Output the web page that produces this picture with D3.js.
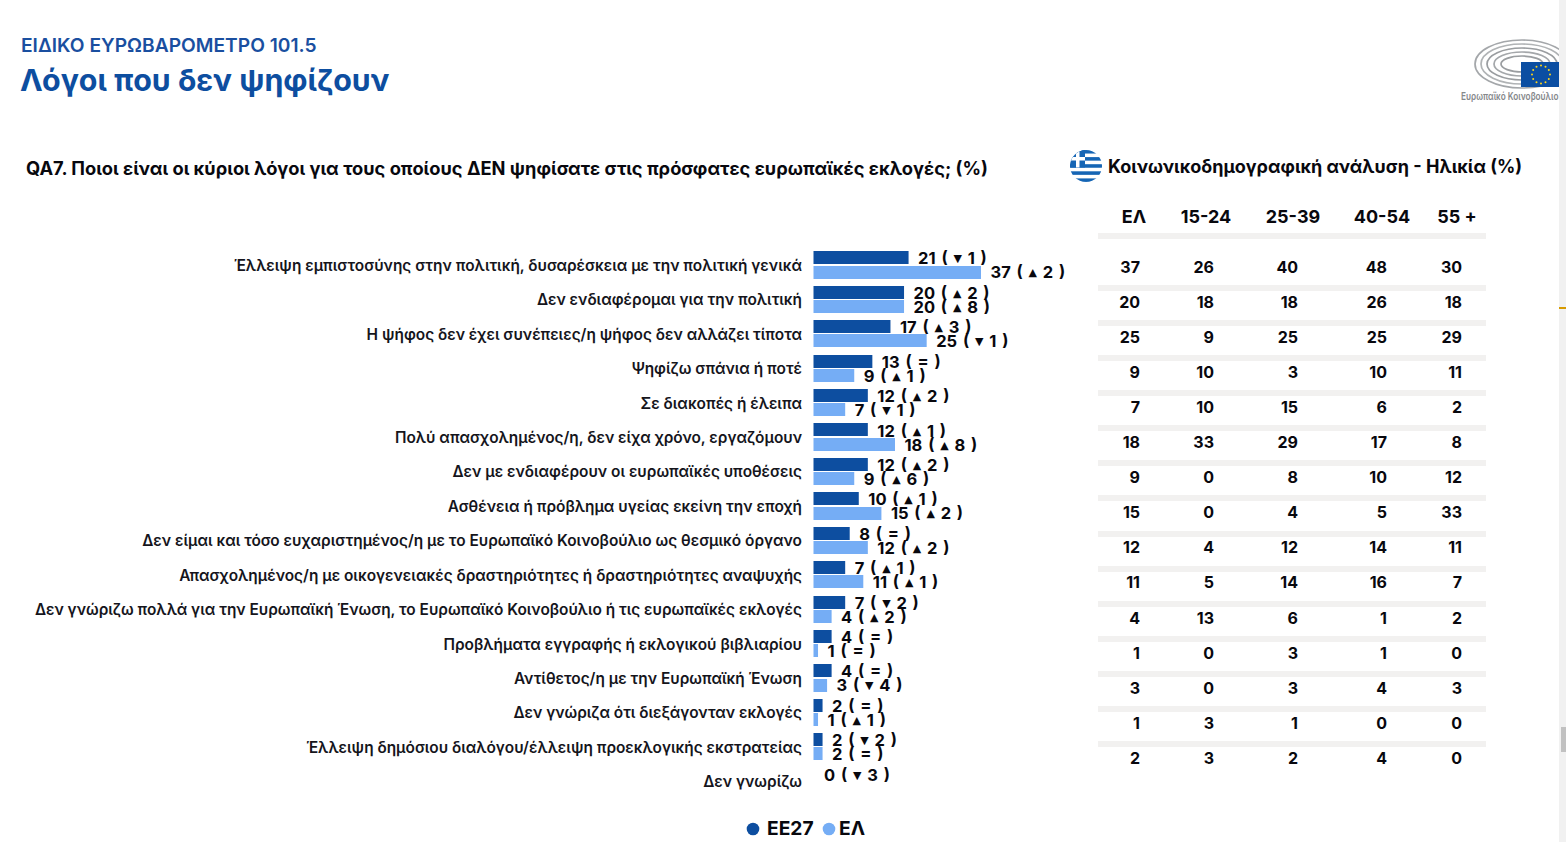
<!DOCTYPE html>
<html><head><meta charset="utf-8">
<script src="https://cdn.jsdelivr.net/npm/d3@7"></script>
<style>
html,body{margin:0;padding:0;background:#fff;overflow:hidden}
text{font-family:"Inter","Noto Sans",sans-serif;}
</style></head><body><svg id="c" width="1566" height="842"></svg>
<script>
const categories=["Έλλειψη εμπιστοσύνης στην πολιτική, δυσαρέσκεια με την πολιτική γενικά","Δεν ενδιαφέρομαι για την πολιτική","Η ψήφος δεν έχει συνέπειες/η ψήφος δεν αλλάζει τίποτα","Ψηφίζω σπάνια ή ποτέ","Σε διακοπές ή έλειπα","Πολύ απασχολημένος/η, δεν είχα χρόνο, εργαζόμουν","Δεν με ενδιαφέρουν οι ευρωπαϊκές υποθέσεις","Ασθένεια ή πρόβλημα υγείας εκείνη την εποχή","Δεν είμαι και τόσο ευχαριστημένος/η με το Ευρωπαϊκό Κοινοβούλιο ως θεσμικό όργανο","Απασχολημένος/η με οικογενειακές δραστηριότητες ή δραστηριότητες αναψυχής","Δεν γνώριζω πολλά για την Ευρωπαϊκή Ένωση, το Ευρωπαϊκό Κοινοβούλιο ή τις ευρωπαϊκές εκλογές","Προβλήματα εγγραφής ή εκλογικού βιβλιαρίου","Αντίθετος/η με την Ευρωπαϊκή Ένωση","Δεν γνώριζα ότι διεξάγονταν εκλογές","Έλλειψη δημόσιου διαλόγου/έλλειψη προεκλογικής εκστρατείας","Δεν γνωρίζω"];
const eu27=[21,20,17,13,12,12,12,10,8,7,7,4,4,2,2,0];
const el=[37,20,25,9,7,18,9,15,12,11,4,1,3,1,2];
const eu27Change=["▼ 1","▲ 2","▲ 3","=","▲ 2","▲ 1","▲ 2","▲ 1","=","▲ 1","▼ 2","=","=","=","▼ 2","▼ 3"];
const elChange=["▲ 2","▲ 8","▼ 1","▲ 1","▼ 1","▲ 8","▲ 6","▲ 2","▲ 2","▲ 1","▲ 2","=","▼ 4","▲ 1","="];
const tableHead=["ΕΛ","15-24","25-39","40-54","55 +"];
const colEL=[37,20,25,9,7,18,9,15,12,11,4,1,3,1,2];
const col1524=[26,18,9,10,10,33,0,0,4,5,13,0,0,3,3];
const col2539=[40,18,25,3,15,29,8,4,12,14,6,3,3,1,2];
const col4054=[48,26,25,10,6,17,10,5,14,16,1,1,4,0,4];
const col55=[30,18,29,11,2,8,12,33,11,7,2,0,3,0,0];
const cols=[colEL,col1524,col2539,col4054,col55];

const svg=d3.select("#c");
const NAVY="#0d4ea0",LIGHT="#75adf5",INK="#08080e";
function T(x,y,s,size,weight,fill,anchor){return svg.append("text").attr("x",x).attr("y",y).text(s).attr("font-size",size).attr("font-weight",weight).attr("fill",fill).attr("text-anchor",anchor||"start").attr("dominant-baseline","central");}

// header
T(21,45,"ΕΙΔΙΚΟ ΕΥΡΩΒΑΡΟΜΕΤΡΟ 101.5",19.2,600,"#1a4fa0");
T(20,80,"Λόγοι που δεν ψηφίζουν",30.4,700,NAVY);
T(26,168,"QA7. Ποιοι είναι οι κύριοι λόγοι για τους οποίους ΔΕΝ ψηφίσατε στις πρόσφατες ευρωπαϊκές εκλογές; (%)",18.3,650,INK);
T(1108,166,"Κοινωνικοδημογραφική ανάλυση - Ηλικία (%)",18.04,650,INK);

// bars
const x=d3.scaleLinear().domain([0,37]).range([813.5,981]);
const y=d3.scaleLinear().domain([0,1]).range([251.4,285.82]);
const barH=13;
const g=svg.append("g");
g.selectAll(".d").data(eu27).join("rect").attr("x",x(0)).attr("y",(d,i)=>Math.round(y(i))).attr("width",d=>x(d)-x(0)).attr("height",barH).attr("fill",NAVY);
g.selectAll(".l").data(el).join("rect").attr("x",x(0)).attr("y",(d,i)=>Math.round(y(i)+14.2)).attr("width",d=>x(d)-x(0)).attr("height",barH).attr("fill",LIGHT);
categories.forEach((c,i)=>T(802,y(i)+14,c,15.4,600,"#15151c","end"));
function lab(v,ch,i,off){const px=x(v)+(v==0?10.5:9.5);const t=T(px,y(i)+off,"",16.5,700,INK).attr("word-spacing",1.9);
 t.append("tspan").text(v+" ( ");
 const m=ch.match(/^([▲▼]) (\d)$/);
 if(m){t.append("tspan").text(m[1]).attr("font-size",11).attr("font-family","DejaVu Sans");t.append("tspan").text(" "+m[2]+" )");}
 else t.append("tspan").text(ch+" )");}
eu27.forEach((v,i)=>lab(v,eu27Change[i],i,7));
el.forEach((v,i)=>lab(v,elChange[i],i,21));

// table
const colRight=[1140,1214,1298,1387,1462];
const headX=[1134,1206,1293,1382,1457];
tableHead.forEach((h,i)=>T(headX[i],216.5,h,18,700,INK,"middle"));
const rowY=d3.scaleLinear().domain([0,14]).range([266.8,757.8]);
svg.append("rect").attr("x",1098).attr("y",233).attr("width",388).attr("height",6).attr("fill","#f2f1f0");
d3.range(14).forEach(i=>svg.append("rect").attr("x",1098).attr("y",Math.round(rowY(i)+18.2)).attr("width",388).attr("height",6).attr("fill","#f2f1f0"));
cols.forEach((col,c)=>col.forEach((v,r)=>T(colRight[c],rowY(r),v,16,700,INK,"end")));

// legend
svg.append("circle").attr("cx",753).attr("cy",829).attr("r",6.3).attr("fill",NAVY);
svg.append("circle").attr("cx",829).attr("cy",829).attr("r",6.3).attr("fill",LIGHT);
T(767,827.5,"ΕΕ27",19.2,700,INK);
T(839,827.5,"ΕΛ",19.2,700,INK);

// flag
const fd=svg.append("defs");
fd.append("clipPath").attr("id","fc").append("circle").attr("cx",1086).attr("cy",166).attr("r",16);
const f=svg.append("g").attr("clip-path","url(#fc)");
f.append("rect").attr("x",1070).attr("y",150).attr("width",32).attr("height",32).attr("fill","#fff");
d3.range(5).forEach(i=>f.append("rect").attr("x",1070).attr("y",150+i*7.1).attr("width",32).attr("height",3.55).attr("fill","#1565b5"));
f.append("rect").attr("x",1070).attr("y",150).attr("width",15).attr("height",17.5).attr("fill","#1565b5");
f.append("rect").attr("x",1070).attr("y",157).attr("width",15).attr("height",3.5).attr("fill","#fff");
f.append("rect").attr("x",1076).attr("y",150).attr("width",3.5).attr("height",17.5).attr("fill","#fff");

// logo
const lg=svg.append("g");
[[47,24,"#a4a7aa"],[41,20,"#b0b3b5"],[35,16,"#9a9da0"],[28,12,"#a4a7aa"],[21,8,"#9a9da0"]].forEach(a=>{
 lg.append("ellipse").attr("cx",1522).attr("cy",64).attr("rx",a[0]).attr("ry",a[1]).attr("fill","none").attr("stroke",a[2]).attr("stroke-width",1.7);
});
svg.append("rect").attr("x",1521).attr("y",62).attr("width",39).attr("height",25).attr("fill","#0b4ea2");
d3.range(12).forEach(i=>svg.append("circle").attr("cx",1541+9*Math.cos(i*Math.PI/6)).attr("cy",74.5+9*Math.sin(i*Math.PI/6)).attr("r",1).attr("fill","#ffd617"));
svg.append("rect").attr("x",1458).attr("y",89).attr("width",102).attr("height",15).attr("fill","#fff");
T(1461,96.5,"Ευρωπαϊκό Κοινοβούλιο",10.5,600,"#85888b").attr("textLength",97.5).attr("lengthAdjust","spacingAndGlyphs");
// window scrollbar strip
svg.append("rect").attr("x",1559).attr("y",0).attr("width",7).attr("height",842).attr("fill","#f1f1f1");
svg.append("rect").attr("x",1561).attr("y",727).attr("width",5).attr("height",25).attr("fill","#c1c1c1");
svg.append("rect").attr("x",1559).attr("y",307).attr("width",7).attr("height",2).attr("fill","#d79a00");
</script></body></html>
